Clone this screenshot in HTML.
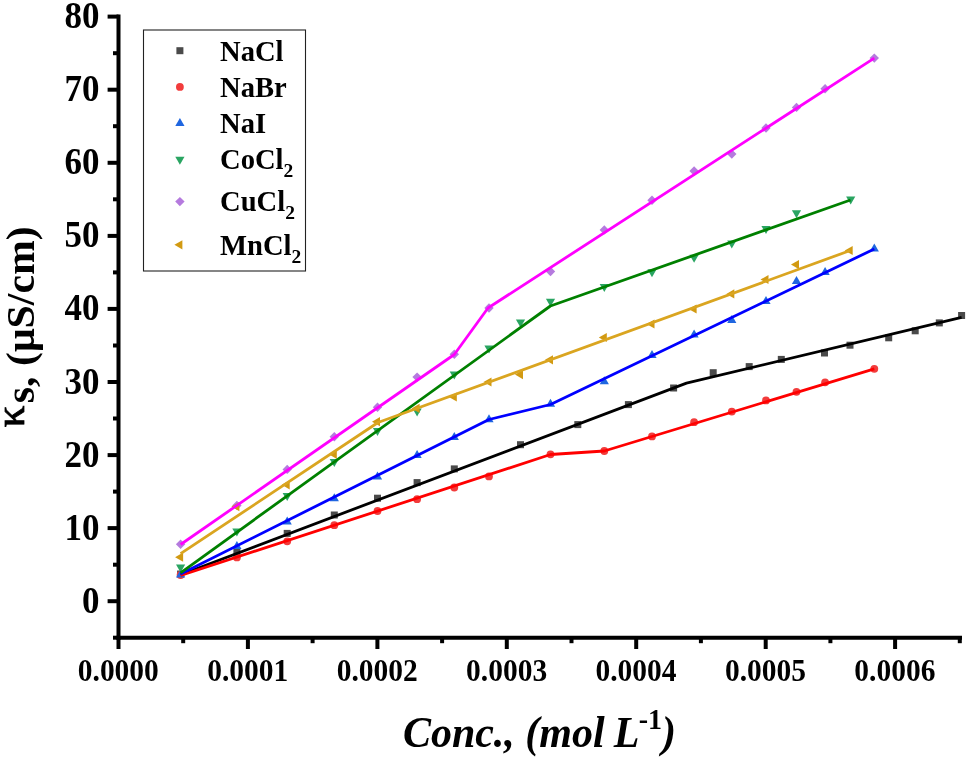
<!DOCTYPE html>
<html><head><meta charset="utf-8"><title>chart</title>
<style>
html,body{margin:0;padding:0;background:#fff;}
body{width:968px;height:758px;overflow:hidden;font-family:"Liberation Serif",serif;}
svg{display:block;will-change:transform;}
text{font-family:"Liberation Serif",serif;font-weight:bold;fill:#000;}
</style></head><body>
<svg width="968" height="758" viewBox="0 0 968 758">
<rect x="0" y="0" width="968" height="758" fill="#ffffff"/>

<g id="markers">
<rect x="177.1" y="570.5" width="7.0" height="7.0" fill="#4a4a4a"/>
<rect x="233.4" y="548.2" width="7.0" height="7.0" fill="#4a4a4a"/>
<rect x="283.7" y="529.9" width="7.0" height="7.0" fill="#4a4a4a"/>
<rect x="330.8" y="511.5" width="7.0" height="7.0" fill="#4a4a4a"/>
<rect x="374.0" y="494.7" width="7.0" height="7.0" fill="#4a4a4a"/>
<rect x="413.6" y="479.1" width="7.0" height="7.0" fill="#4a4a4a"/>
<rect x="450.8" y="465.4" width="7.0" height="7.0" fill="#4a4a4a"/>
<rect x="517.0" y="441.2" width="7.0" height="7.0" fill="#4a4a4a"/>
<rect x="574.3" y="421.1" width="7.0" height="7.0" fill="#4a4a4a"/>
<rect x="624.9" y="401.1" width="7.0" height="7.0" fill="#4a4a4a"/>
<rect x="670.1" y="384.5" width="7.0" height="7.0" fill="#4a4a4a"/>
<rect x="709.7" y="369.2" width="7.0" height="7.0" fill="#4a4a4a"/>
<rect x="745.7" y="363.1" width="7.0" height="7.0" fill="#4a4a4a"/>
<rect x="777.8" y="355.9" width="7.0" height="7.0" fill="#4a4a4a"/>
<rect x="821.0" y="349.5" width="7.0" height="7.0" fill="#4a4a4a"/>
<rect x="846.5" y="341.7" width="7.0" height="7.0" fill="#4a4a4a"/>
<rect x="885.2" y="334.3" width="7.0" height="7.0" fill="#4a4a4a"/>
<rect x="911.7" y="327.3" width="7.0" height="7.0" fill="#4a4a4a"/>
<rect x="935.8" y="319.4" width="7.0" height="7.0" fill="#4a4a4a"/>
<rect x="958.1" y="312.0" width="7.0" height="7.0" fill="#4a4a4a"/>
<circle cx="180.6" cy="575.0" r="3.9" fill="#f23c3c"/>
<circle cx="236.9" cy="557.4" r="3.9" fill="#f23c3c"/>
<circle cx="287.2" cy="541.3" r="3.9" fill="#f23c3c"/>
<circle cx="334.3" cy="525.2" r="3.9" fill="#f23c3c"/>
<circle cx="377.5" cy="511.0" r="3.9" fill="#f23c3c"/>
<circle cx="417.1" cy="499.2" r="3.9" fill="#f23c3c"/>
<circle cx="454.3" cy="487.5" r="3.9" fill="#f23c3c"/>
<circle cx="489.0" cy="476.4" r="3.9" fill="#f23c3c"/>
<circle cx="550.5" cy="454.3" r="3.9" fill="#f23c3c"/>
<circle cx="604.3" cy="451.0" r="3.9" fill="#f23c3c"/>
<circle cx="652.0" cy="436.4" r="3.9" fill="#f23c3c"/>
<circle cx="694.1" cy="422.2" r="3.9" fill="#f23c3c"/>
<circle cx="731.8" cy="411.6" r="3.9" fill="#f23c3c"/>
<circle cx="766.0" cy="400.4" r="3.9" fill="#f23c3c"/>
<circle cx="796.5" cy="391.8" r="3.9" fill="#f23c3c"/>
<circle cx="825.1" cy="382.3" r="3.9" fill="#f23c3c"/>
<circle cx="874.3" cy="368.8" r="3.9" fill="#f23c3c"/>
<polygon points="180.6,569.4 185.2,577.4 176.0,577.4" fill="#1f66e0"/>
<polygon points="236.9,540.9 241.5,548.9 232.3,548.9" fill="#1f66e0"/>
<polygon points="287.2,516.4 291.8,524.4 282.6,524.4" fill="#1f66e0"/>
<polygon points="334.3,493.3 338.9,501.3 329.7,501.3" fill="#1f66e0"/>
<polygon points="377.5,471.5 382.1,479.5 372.9,479.5" fill="#1f66e0"/>
<polygon points="417.1,450.1 421.7,458.1 412.5,458.1" fill="#1f66e0"/>
<polygon points="454.3,432.0 458.9,440.0 449.7,440.0" fill="#1f66e0"/>
<polygon points="489.0,414.2 493.6,422.2 484.4,422.2" fill="#1f66e0"/>
<polygon points="550.5,398.8 555.1,406.8 545.9,406.8" fill="#1f66e0"/>
<polygon points="604.3,376.2 608.9,384.2 599.7,384.2" fill="#1f66e0"/>
<polygon points="652.0,349.9 656.6,357.9 647.4,357.9" fill="#1f66e0"/>
<polygon points="694.1,329.6 698.7,337.6 689.5,337.6" fill="#1f66e0"/>
<polygon points="731.8,314.9 736.4,322.9 727.2,322.9" fill="#1f66e0"/>
<polygon points="766.0,295.9 770.6,303.9 761.4,303.9" fill="#1f66e0"/>
<polygon points="796.5,276.1 801.1,284.1 791.9,284.1" fill="#1f66e0"/>
<polygon points="825.1,267.0 829.7,275.0 820.5,275.0" fill="#1f66e0"/>
<polygon points="874.3,243.4 878.9,251.4 869.7,251.4" fill="#1f66e0"/>
<polygon points="180.6,572.5 185.2,564.5 176.0,564.5" fill="#2aa562"/>
<polygon points="236.9,536.5 241.5,528.5 232.3,528.5" fill="#2aa562"/>
<polygon points="287.2,501.0 291.8,493.0 282.6,493.0" fill="#2aa562"/>
<polygon points="334.3,467.1 338.9,459.1 329.7,459.1" fill="#2aa562"/>
<polygon points="377.5,436.1 382.1,428.1 372.9,428.1" fill="#2aa562"/>
<polygon points="417.1,416.4 421.7,408.4 412.5,408.4" fill="#2aa562"/>
<polygon points="454.3,379.5 458.9,371.5 449.7,371.5" fill="#2aa562"/>
<polygon points="489.0,353.4 493.6,345.4 484.4,345.4" fill="#2aa562"/>
<polygon points="520.5,327.4 525.1,319.4 515.9,319.4" fill="#2aa562"/>
<polygon points="550.5,306.8 555.1,298.8 545.9,298.8" fill="#2aa562"/>
<polygon points="604.3,292.0 608.9,284.0 599.7,284.0" fill="#2aa562"/>
<polygon points="652.0,277.2 656.6,269.2 647.4,269.2" fill="#2aa562"/>
<polygon points="694.1,262.8 698.7,254.8 689.5,254.8" fill="#2aa562"/>
<polygon points="731.8,248.6 736.4,240.6 727.2,240.6" fill="#2aa562"/>
<polygon points="766.0,234.0 770.6,226.0 761.4,226.0" fill="#2aa562"/>
<polygon points="796.5,218.2 801.1,210.2 791.9,210.2" fill="#2aa562"/>
<polygon points="850.7,204.5 855.3,196.5 846.1,196.5" fill="#2aa562"/>
<polygon points="180.6,539.6 185.3,544.3 180.6,549.0 175.9,544.3" fill="#b57ade"/>
<polygon points="236.9,500.7 241.6,505.4 236.9,510.1 232.2,505.4" fill="#b57ade"/>
<polygon points="287.2,464.7 291.9,469.4 287.2,474.1 282.5,469.4" fill="#b57ade"/>
<polygon points="334.3,432.0 339.0,436.7 334.3,441.4 329.6,436.7" fill="#b57ade"/>
<polygon points="377.5,402.6 382.2,407.3 377.5,412.0 372.8,407.3" fill="#b57ade"/>
<polygon points="417.1,372.4 421.8,377.1 417.1,381.8 412.4,377.1" fill="#b57ade"/>
<polygon points="454.3,349.6 459.0,354.3 454.3,359.0 449.6,354.3" fill="#b57ade"/>
<polygon points="489.0,303.3 493.7,308.0 489.0,312.7 484.3,308.0" fill="#b57ade"/>
<polygon points="550.5,266.8 555.2,271.5 550.5,276.2 545.8,271.5" fill="#b57ade"/>
<polygon points="604.3,225.2 609.0,229.9 604.3,234.6 599.6,229.9" fill="#b57ade"/>
<polygon points="652.0,195.5 656.7,200.2 652.0,204.9 647.3,200.2" fill="#b57ade"/>
<polygon points="694.1,166.3 698.8,171.0 694.1,175.7 689.4,171.0" fill="#b57ade"/>
<polygon points="731.8,149.4 736.5,154.1 731.8,158.8 727.1,154.1" fill="#b57ade"/>
<polygon points="766.0,123.3 770.7,128.0 766.0,132.7 761.3,128.0" fill="#b57ade"/>
<polygon points="796.5,102.7 801.2,107.4 796.5,112.1 791.8,107.4" fill="#b57ade"/>
<polygon points="825.1,84.1 829.8,88.8 825.1,93.5 820.4,88.8" fill="#b57ade"/>
<polygon points="874.3,53.4 879.0,58.1 874.3,62.8 869.6,58.1" fill="#b57ade"/>
<polygon points="175.1,557.2 183.1,552.6 183.1,561.8" fill="#d29a12"/>
<polygon points="231.4,506.6 239.4,502.0 239.4,511.2" fill="#d29a12"/>
<polygon points="281.7,484.8 289.7,480.2 289.7,489.4" fill="#d29a12"/>
<polygon points="328.8,454.3 336.8,449.7 336.8,458.9" fill="#d29a12"/>
<polygon points="372.0,421.7 380.0,417.1 380.0,426.3" fill="#d29a12"/>
<polygon points="411.6,408.4 419.6,403.8 419.6,413.0" fill="#d29a12"/>
<polygon points="448.8,397.0 456.8,392.4 456.8,401.6" fill="#d29a12"/>
<polygon points="483.5,382.0 491.5,377.4 491.5,386.6" fill="#d29a12"/>
<polygon points="515.0,374.6 523.0,370.0 523.0,379.2" fill="#d29a12"/>
<polygon points="545.0,359.8 553.0,355.2 553.0,364.4" fill="#d29a12"/>
<polygon points="598.8,337.5 606.8,332.9 606.8,342.1" fill="#d29a12"/>
<polygon points="646.5,324.0 654.5,319.4 654.5,328.6" fill="#d29a12"/>
<polygon points="688.6,309.0 696.6,304.4 696.6,313.6" fill="#d29a12"/>
<polygon points="726.3,293.9 734.3,289.3 734.3,298.5" fill="#d29a12"/>
<polygon points="760.5,279.5 768.5,274.9 768.5,284.1" fill="#d29a12"/>
<polygon points="791.0,264.6 799.0,260.0 799.0,269.2" fill="#d29a12"/>
<polygon points="844.7,250.5 852.7,245.9 852.7,255.1" fill="#d29a12"/>
</g>
<g id="lines" fill="none" stroke-width="2.8" stroke-linejoin="round" stroke-linecap="butt">
<polyline points="180.6,574.7 686.5,383.1 961.6,317.4" stroke="#000000"/>
<polyline points="180.6,575.5 550.5,454.5 604.3,451.0 874.3,368.8" stroke="#ff0000"/>
<polyline points="180.6,574.0 489.0,419.5 550.5,404.5 874.3,249.0" stroke="#0000ff"/>
<polyline points="180.6,572.8 550.4,306.0 850.5,200.0" stroke="#008000"/>
<polyline points="180.6,544.5 454.3,354.5 488.0,308.0 874.3,58.1" stroke="#ff00ff"/>
<polyline points="180.6,553.7 378.0,422.5 850.2,250.5" stroke="#daa520"/>
</g>
<g id="axes" stroke="#000" stroke-width="4" fill="none" stroke-linecap="butt">
<line x1="118.5" y1="14.4" x2="118.5" y2="639.8"/>
<line x1="116.5" y1="637.8" x2="962" y2="637.8"/>
<line x1="107.6" y1="601.2" x2="118.5" y2="601.2"/>
<line x1="107.6" y1="528.1" x2="118.5" y2="528.1"/>
<line x1="107.6" y1="455.1" x2="118.5" y2="455.1"/>
<line x1="107.6" y1="382.0" x2="118.5" y2="382.0"/>
<line x1="107.6" y1="308.9" x2="118.5" y2="308.9"/>
<line x1="107.6" y1="235.9" x2="118.5" y2="235.9"/>
<line x1="107.6" y1="162.8" x2="118.5" y2="162.8"/>
<line x1="107.6" y1="89.7" x2="118.5" y2="89.7"/>
<line x1="107.6" y1="16.6" x2="118.5" y2="16.6"/>
<line x1="113" y1="637.7" x2="118.5" y2="637.7"/>
<line x1="113" y1="564.7" x2="118.5" y2="564.7"/>
<line x1="113" y1="491.6" x2="118.5" y2="491.6"/>
<line x1="113" y1="418.5" x2="118.5" y2="418.5"/>
<line x1="113" y1="345.5" x2="118.5" y2="345.5"/>
<line x1="113" y1="272.4" x2="118.5" y2="272.4"/>
<line x1="113" y1="199.3" x2="118.5" y2="199.3"/>
<line x1="113" y1="126.2" x2="118.5" y2="126.2"/>
<line x1="113" y1="53.2" x2="118.5" y2="53.2"/>
<line x1="118.5" y1="637.8" x2="118.5" y2="649"/>
<line x1="247.9" y1="637.8" x2="247.9" y2="649"/>
<line x1="377.4" y1="637.8" x2="377.4" y2="649"/>
<line x1="506.8" y1="637.8" x2="506.8" y2="649"/>
<line x1="636.2" y1="637.8" x2="636.2" y2="649"/>
<line x1="765.7" y1="637.8" x2="765.7" y2="649"/>
<line x1="895.1" y1="637.8" x2="895.1" y2="649"/>
<line x1="183.2" y1="637.8" x2="183.2" y2="643.2"/>
<line x1="312.6" y1="637.8" x2="312.6" y2="643.2"/>
<line x1="442.1" y1="637.8" x2="442.1" y2="643.2"/>
<line x1="571.5" y1="637.8" x2="571.5" y2="643.2"/>
<line x1="700.9" y1="637.8" x2="700.9" y2="643.2"/>
<line x1="830.4" y1="637.8" x2="830.4" y2="643.2"/>
<line x1="959.8" y1="637.8" x2="959.8" y2="643.2"/>
</g>
<g id="ylabels" font-size="35" text-anchor="end">
<text transform="translate(99.6,612.7) scale(1,1.075)">0</text>
<text transform="translate(99.6,539.6) scale(1,1.075)">10</text>
<text transform="translate(99.6,466.6) scale(1,1.075)">20</text>
<text transform="translate(99.6,393.5) scale(1,1.075)">30</text>
<text transform="translate(99.6,320.4) scale(1,1.075)">40</text>
<text transform="translate(99.6,247.4) scale(1,1.075)">50</text>
<text transform="translate(99.6,174.3) scale(1,1.075)">60</text>
<text transform="translate(99.6,101.2) scale(1,1.075)">70</text>
<text transform="translate(99.6,28.1) scale(1,1.075)">80</text>
</g>
<g id="xlabels" font-size="29.5" text-anchor="middle">
<text transform="translate(118.3,680.7) scale(1,1.085)">0.0000</text>
<text transform="translate(247.7,680.7) scale(1,1.085)">0.0001</text>
<text transform="translate(377.2,680.7) scale(1,1.085)">0.0002</text>
<text transform="translate(506.6,680.7) scale(1,1.085)">0.0003</text>
<text transform="translate(636.0,680.7) scale(1,1.085)">0.0004</text>
<text transform="translate(765.5,680.7) scale(1,1.085)">0.0005</text>
<text transform="translate(894.9,680.7) scale(1,1.085)">0.0006</text>
</g>
<text id="xtitle" transform="translate(539.5,746.5) scale(1,1.05)" font-size="42" font-style="italic" text-anchor="middle">Conc., (mol <tspan dx="-1.5">L</tspan><tspan font-size="28" font-style="normal" dy="-16.5" dx="-0.5">-1</tspan><tspan dy="16.5">)</tspan></text>
<g transform="translate(34,427.5) rotate(-90) scale(1.045,1)"><text id="ytitle" x="0" y="0" font-size="40"><tspan font-size="41.5" font-weight="normal" stroke="#000" stroke-width="0.8" dy="-10.3">κ</tspan><tspan dy="10.3" dx="2.4" font-size="40">s, (μS/cm)</tspan></text></g>
<rect x="143.5" y="30" width="162" height="241" fill="#fff" stroke="#222" stroke-width="1.1"/>
<rect x="176.4" y="47.2" width="7.0" height="7.0" fill="#4a4a4a"/>
<text x="220" y="61" font-size="28.6">NaCl</text>
<circle cx="179.9" cy="86.9" r="3.9" fill="#f23c3c"/>
<text x="220" y="97.2" font-size="28.6">NaBr</text>
<polygon points="179.9,117.9 184.5,125.9 175.3,125.9" fill="#1f66e0"/>
<text x="220" y="133" font-size="28.6">NaI</text>
<polygon points="179.9,164.7 184.5,156.7 175.3,156.7" fill="#2aa562"/>
<text x="220" y="168.8" font-size="28.6">CoCl<tspan font-size="19.5" dy="7.8">2</tspan></text>
<polygon points="179.9,196.9 184.6,201.6 179.9,206.3 175.2,201.6" fill="#b57ade"/>
<text x="220" y="211.1" font-size="28.6">CuCl<tspan font-size="19.5" dy="7.8">2</tspan></text>
<polygon points="174.4,244.8 182.4,240.2 182.4,249.4" fill="#d29a12"/>
<text x="220" y="254.7" font-size="28.6">MnCl<tspan font-size="19.5" dy="7.8">2</tspan></text>
</svg></body></html>
